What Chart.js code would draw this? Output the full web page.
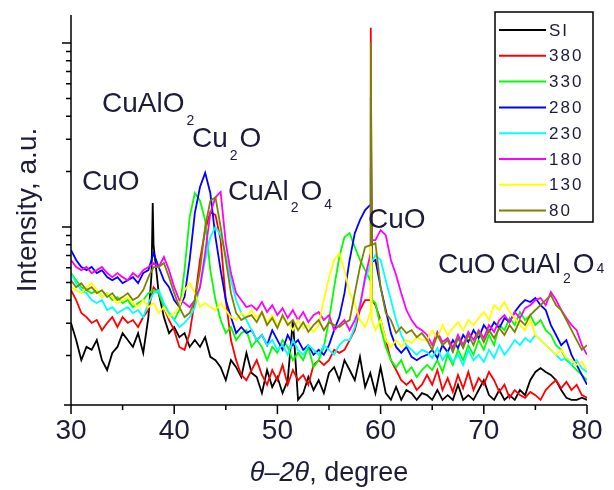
<!DOCTYPE html>
<html>
<head>
<meta charset="utf-8">
<script src="https://cdn.jsdelivr.net/npm/chart.js@4.4.0/dist/chart.umd.min.js"></script>
<style>
  html, body { margin: 0; padding: 0; background: #fff; }
  #wrap { width: 614px; height: 490px; position: relative; }
</style>
</head>
<body>
<div id="wrap"><canvas id="xrd"></canvas></div>
<script>
// 2theta sampling (degree)
const twoTheta = [
  30,30.5,31,31.5,32,32.5,33,33.5,34,34.5,
  35,35.5,36,36.5,37,37.5,38,38.5,39,39.5,
  40,40.5,41,41.5,42,42.5,43,43.5,44,44.5,
  45,45.5,46,46.5,47,47.5,48,48.5,49,49.5,
  50,50.5,51,51.5,52,52.5,53,53.5,54,54.5,
  55,55.5,56,56.5,57,57.5,58,58.5,59,59.5,
  60,60.5,61,61.5,62,62.5,63,63.5,64,64.5,
  65,65.5,66,66.5,67,67.5,68,68.5,69,69.5,
  70,70.5,71,71.5,72,72.5,73,73.5,74,74.5,
  75,75.5,76,76.5,77,77.5,78,78.5,79,79.5,
  80
];
// extra samples on the narrow peaks (CuO 38, substrate 59)
const peakTheta = [37.8, 37.92, 59.05, 59.15];

const seriesNames = ['SI', '380', '330', '280', '230', '180', '130', '80'];
const seriesColors = ['#000000', '#ff0000', '#00ff00', '#0000ff', '#00ffff', '#ff00ff', '#ffff00', '#808000'];

// intensity, a.u. (log axis)
const intSI = [
  3.01,2.43,1.89,2.23,2.15,2.43,1.89,1.67,2.07,2.23,
  2.65,2.43,2.23,2.65,2.07,3.24,7.98,4.37,3.24,2.65,
  2.86,2.52,2.65,2.23,2.43,2.23,2.52,1.97,1.89,1.73,
  1.47,1.89,1.73,1.53,2.07,1.61,1.53,1.25,1.67,1.35,
  1.53,1.25,1.47,3.12,1.15,1.25,1.53,1.30,1.47,1.25,
  1.61,1.73,1.47,1.89,1.67,1.47,1.97,1.35,1.61,1.25,
  1.73,1.25,1.15,1.35,1.15,1.30,1.25,1.15,1.25,1.22,
  1.15,1.30,1.15,1.22,1.15,1.39,1.15,1.22,1.15,1.30,
  1.47,1.22,1.15,1.30,1.15,1.22,1.15,1.30,1.22,1.47,
  1.63,1.71,1.63,1.57,1.47,1.30,1.18,1.15,1.15,1.18,
  1.15
];
const int380 = [
  4.54,4.01,3.41,3.24,3.01,3.12,2.75,3.01,3.24,2.86,
  3.24,3.01,3.12,2.86,3.24,3.54,4.71,4.37,3.67,3.12,
  2.75,2.23,2.15,2.65,4.01,6.62,9.61,12.05,11.6,8.49,
  4.01,2.43,1.89,1.57,1.47,1.67,1.89,1.57,1.39,1.67,
  1.47,1.78,1.39,1.67,1.47,1.57,1.39,1.78,1.89,1.78,
  1.89,2.15,2.07,2.15,2.43,2.75,3.54,4.01,4.01,3.76,
  3.12,2.43,1.89,1.67,1.47,1.39,1.47,1.30,1.39,1.57,
  1.39,1.67,1.30,1.51,1.27,1.57,1.33,1.63,1.30,1.51,
  1.39,1.63,1.47,1.27,1.39,1.18,1.30,1.22,1.18,1.27,
  1.22,1.15,1.30,1.39,1.47,1.33,1.44,1.30,1.39,1.22,
  1.18
];
const int330 = [
  5.62,5.14,4.71,4.54,4.37,4.54,4.16,4.37,4.01,4.16,
  3.86,4.01,3.67,3.86,4.01,4.37,4.54,4.37,3.67,3.41,
  3.12,3.54,5.83,11.33,15.3,13.9,10.9,5.83,4.01,3.12,
  2.65,2.86,2.43,2.65,2.75,2.23,2.43,2.23,1.89,2.23,
  2.07,2.43,2.23,1.89,2.07,1.89,2.23,1.73,1.89,2.23,
  3.12,4.71,6.87,8.82,9.26,7.78,6.62,5.83,5.14,3.86,
  2.86,2.23,1.89,1.73,1.89,1.61,1.73,1.53,1.67,1.78,
  1.67,1.89,1.63,2.02,1.78,2.15,1.89,2.28,2.02,2.43,
  2.15,2.59,2.28,2.93,2.75,3.20,2.93,3.45,3.12,3.32,
  2.93,3.12,2.75,2.59,2.28,2.15,1.89,1.78,1.67,1.57,
  1.47
];
const int280 = [
  7.49,6.62,6.06,5.83,6.06,5.62,5.83,5.34,5.14,5.34,
  4.95,5.14,5.34,4.95,5.62,5.83,7.21,6.06,5.14,4.71,
  4.01,3.67,4.16,6.62,11.9,16.5,19.7,15.3,8.82,5.83,
  4.01,3.24,2.65,2.86,2.65,2.75,2.43,2.59,2.28,2.75,
  2.43,2.15,2.59,2.28,2.43,2.15,2.28,2.02,2.15,2.02,
  2.28,2.75,3.24,4.37,6.62,9.26,10.9,12.35,13.2,6.62,
  4.71,3.54,2.65,2.23,2.07,2.23,1.97,1.89,1.97,2.02,
  2.15,1.94,2.28,2.09,2.43,2.20,2.59,2.37,2.75,2.49,
  2.93,2.69,3.04,2.82,3.20,3.04,3.45,3.76,4.01,3.91,
  4.11,3.76,3.54,2.93,2.59,2.28,2.43,2.02,1.78,1.57,
  1.39
];
const int230 = [
  5.62,4.95,4.54,4.37,4.01,3.86,4.01,3.54,3.67,3.41,
  3.54,3.67,3.41,3.54,3.24,3.86,4.37,4.54,3.86,3.41,
  3.12,2.86,3.01,3.24,3.67,4.71,6.62,8.82,10.0,9.03,
  7.05,5.14,4.01,3.41,3.12,2.75,2.43,2.59,2.28,2.43,
  2.15,2.28,2.02,2.43,2.15,2.02,2.28,2.15,2.02,2.28,
  2.15,2.02,2.28,2.43,2.43,2.86,3.86,5.14,6.21,7.05,
  6.62,5.14,4.01,3.12,2.59,2.28,2.15,2.02,2.15,2.09,
  1.94,2.20,1.89,2.09,1.85,2.02,1.78,2.15,1.89,2.02,
  1.85,2.15,1.94,2.28,2.02,2.20,2.43,2.28,2.49,2.37,
  2.59,2.43,2.28,2.15,2.02,1.89,1.94,1.78,1.89,1.71,
  1.63
];
const int180 = [
  6.62,6.06,5.83,6.06,5.62,5.83,6.06,5.62,5.34,5.62,
  5.34,5.14,5.62,5.34,5.83,6.06,6.37,6.06,6.87,5.83,
  4.71,4.01,3.86,3.67,4.01,4.71,7.21,11.9,14.5,15.5,
  8.17,5.62,4.37,4.01,3.67,3.76,3.54,3.91,3.45,3.76,
  3.32,3.62,3.20,3.54,3.12,3.45,3.04,3.32,3.45,3.12,
  3.32,2.75,2.93,3.12,2.75,3.12,3.67,5.34,7.05,8.49,
  9.61,9.03,6.62,5.48,4.37,3.54,3.12,2.86,2.75,2.59,
  2.28,2.69,2.37,2.49,2.20,2.59,2.28,2.69,2.43,2.75,
  2.49,2.93,2.69,3.12,3.32,3.04,3.45,3.20,3.62,3.76,
  4.01,4.11,3.76,4.43,4.01,3.54,3.20,2.93,2.75,2.28,
  2.02
];
const int130 = [
  4.71,4.54,4.37,4.71,4.95,4.54,4.16,4.37,4.16,3.86,
  4.01,4.16,3.86,3.67,4.01,3.67,3.86,3.41,3.67,3.24,
  3.41,3.67,4.54,4.95,4.37,3.67,3.86,3.67,3.54,3.86,
  3.54,3.24,3.12,3.41,3.24,3.54,3.20,3.45,3.04,3.32,
  2.93,3.20,3.04,2.75,3.12,2.82,2.93,2.69,2.93,4.01,
  5.34,6.62,7.21,5.83,4.37,3.86,3.12,2.86,3.41,2.75,
  3.12,2.43,2.23,2.43,2.23,2.43,2.34,2.52,2.43,2.43,
  2.75,2.49,2.93,2.59,2.82,3.04,2.75,3.12,2.93,3.20,
  3.45,3.12,3.76,3.54,3.91,3.45,3.20,2.93,2.75,3.12,
  2.59,2.43,2.28,2.15,2.02,2.15,1.94,1.89,1.78,1.85,
  1.67
];
const int80 = [
  5.14,4.71,4.95,4.54,4.71,4.37,4.54,4.16,4.37,4.01,
  4.16,4.37,4.01,4.16,4.54,5.34,6.06,6.06,6.37,5.34,
  4.37,3.67,3.24,3.41,4.01,5.83,10.0,13.9,14.5,10.0,
  6.62,4.37,3.41,3.12,3.24,3.32,3.04,3.45,2.93,3.20,
  2.82,3.32,2.93,3.12,2.75,3.04,2.69,2.93,3.12,2.75,
  3.04,2.93,2.86,3.01,3.12,4.37,6.06,7.78,7.98,8.17,
  4.71,3.41,3.12,2.65,2.86,2.65,2.75,2.52,2.65,2.43,
  2.15,2.59,2.28,2.43,2.09,2.49,2.20,2.59,2.28,2.69,
  2.37,2.75,2.49,2.82,2.59,2.93,2.69,3.12,2.93,3.32,
  3.54,3.76,4.01,4.26,3.76,3.54,3.12,2.75,2.43,2.15,
  2.28
];

// values at peakTheta (null = no extra sample)
const peakSI  = [5.48, 13.5, null, null];
const peak380 = [null, null, 121, 4.01];
const peak330 = [null, null, 20.4, 4.01];
const peak280 = [null, null, 50.9, 6.45];
const peak230 = [null, null, null, null];
const peak180 = [null, null, 21.7, 8.49];
const peak130 = [null, null, 13.9, 3.12];
const peak80  = [null, null, 101, 7.98];

const seriesValues = [intSI, int380, int330, int280, int230, int180, int130, int80];
const seriesPeaks = [peakSI, peak380, peak330, peak280, peak230, peak180, peak130, peak80];

// axis ticks
const xMajorTicks = [30, 40, 50, 60, 70, 80];
const xMinorTicks = [35, 45, 55, 65, 75];
const yMajorTicks = [10, 100];
const yMinorTicks = [2, 3, 4, 5, 6, 7, 8, 9, 20, 30, 40, 50, 60, 70, 80, 90];

// phase labels: anchor (2theta, intensity) of the first letter baseline
const phaseLabels = [
  { theta: 31.07, level: 15.9, parts: [['CuO', 0]] },
  { theta: 33.0, level: 42.2, parts: [['CuAlO', 0], ['2', 13]] },
  { theta: 41.72, level: 27.2, parts: [['Cu', 0], ['2', 13], ['O', 0]] },
  { theta: 45.21, level: 14.0, parts: [['CuAl', 0], ['2', 12], ['O', 0], ['4', 9]] },
  { theta: 58.78, level: 9.86, parts: [['CuO', 0]] },
  { theta: 65.56, level: 5.62, parts: [['CuO', 0]] },
  { theta: 71.6, level: 5.62, parts: [['CuAl', 0], ['2', 10], ['O', 0], ['4', 0]] }
];

const FONT = "'Liberation Sans', Arial, sans-serif";
const TEXT = '#1c1c3a';

function buildPoints(values, peaks) {
  const pts = twoTheta.map((t, i) => ({ x: t, y: values[i] }));
  peakTheta.forEach((t, i) => {
    if (peaks[i] != null) pts.push({ x: t, y: peaks[i] });
  });
  return pts.sort((a, b) => a.x - b.x);
}

const datasets = seriesNames.map((name, i) => ({
  label: name,
  data: buildPoints(seriesValues[i], seriesPeaks[i]),
  borderColor: seriesColors[i],
  borderWidth: 1.8,
  pointRadius: 0,
  tension: 0,
  order: seriesNames.length - i   // later series drawn on top
}));

const decorations = {
  id: 'decorations',
  afterDatasetsDraw(chart) {
    const { ctx, chartArea: a, scales: { x, y } } = chart;
    ctx.save();

    // axes and ticks
    ctx.strokeStyle = '#000';
    ctx.lineWidth = 1.5;
    ctx.beginPath();
    ctx.moveTo(a.left, a.top); ctx.lineTo(a.left, a.bottom);
    ctx.moveTo(a.left - 7, a.bottom); ctx.lineTo(a.right, a.bottom);
    xMajorTicks.forEach(v => { const p = x.getPixelForValue(v); ctx.moveTo(p, a.bottom); ctx.lineTo(p, a.bottom + 9); });
    xMinorTicks.forEach(v => { const p = x.getPixelForValue(v); ctx.moveTo(p, a.bottom); ctx.lineTo(p, a.bottom + 5); });
    yMajorTicks.forEach(v => { const p = y.getPixelForValue(v); ctx.moveTo(a.left, p); ctx.lineTo(a.left - 9, p); });
    yMinorTicks.forEach(v => { const p = y.getPixelForValue(v); ctx.moveTo(a.left, p); ctx.lineTo(a.left - 5, p); });
    ctx.stroke();

    // phase labels
    ctx.fillStyle = TEXT;
    ctx.textBaseline = 'alphabetic';
    ctx.textAlign = 'left';
    phaseLabels.forEach(lab => {
      let px = x.getPixelForValue(lab.theta);
      const py = y.getPixelForValue(lab.level);
      lab.parts.forEach(([txt, dy]) => {
        const sub = dy !== 0 || /^\d$/.test(txt);
        if (sub) {
          ctx.font = `14px ${FONT}`;
          px += 2;
          ctx.fillText(txt, px, py + dy);
          px += ctx.measureText(txt).width + 2;
        } else {
          ctx.font = `28px ${FONT}`;
          ctx.fillText(txt, px, py);
          px += ctx.measureText(txt).width;
        }
      });
    });

    // legend
    const lx = 495, ly = 12, lw = 98, lh = 210;
    ctx.fillStyle = '#fff';
    ctx.fillRect(lx, ly, lw, lh);
    ctx.strokeStyle = '#000';
    ctx.lineWidth = 1.5;
    ctx.strokeRect(lx, ly, lw, lh);
    ctx.font = `17px ${FONT}`;
    ctx.textBaseline = 'middle';
    if ('letterSpacing' in ctx) ctx.letterSpacing = '2px';
    chart.data.datasets.forEach((ds, i) => {
      const ry = ly + 18 + i * 25.8;
      ctx.strokeStyle = ds.borderColor;
      ctx.lineWidth = 2;
      ctx.beginPath(); ctx.moveTo(lx + 4, ry); ctx.lineTo(lx + 51, ry); ctx.stroke();
      ctx.fillStyle = TEXT;
      ctx.fillText(ds.label, lx + 54, ry + 1);
    });
    if ('letterSpacing' in ctx) ctx.letterSpacing = '0px';

    // axis titles
    ctx.fillStyle = TEXT;
    ctx.textBaseline = 'alphabetic';
    ctx.save();
    ctx.translate(36, (a.top + a.bottom) / 2);
    ctx.rotate(-Math.PI / 2);
    ctx.textAlign = 'center';
    ctx.font = `28px ${FONT}`;
    ctx.fillText('Intensity, a.u.', 0, 0);
    ctx.restore();

    const partA = 'θ–2θ', partB = ', degree';
    ctx.font = `italic 27px ${FONT}`;
    const wA = ctx.measureText(partA).width;
    ctx.font = `27px ${FONT}`;
    const wB = ctx.measureText(partB).width;
    const cx = (a.left + a.right) / 2;
    const tx = cx - (wA + wB) / 2;
    ctx.textAlign = 'left';
    ctx.font = `italic 27px ${FONT}`;
    ctx.fillText(partA, tx, 481);
    ctx.font = `27px ${FONT}`;
    ctx.fillText(partB, tx + wA, 481);

    ctx.restore();
  }
};

new Chart(document.getElementById('xrd'), {
  type: 'line',
  data: { datasets },
  plugins: [decorations],
  options: {
    responsive: true,
    maintainAspectRatio: false,
    animation: false,
    devicePixelRatio: 1,
    layout: { padding: { left: 0, right: 27, top: 15, bottom: 0 } },
    plugins: { legend: { display: false }, tooltip: { enabled: false } },
    scales: {
      x: {
        type: 'linear',
        min: 30, max: 80,
        grid: { display: false, drawTicks: false },
        border: { display: false },
        ticks: { stepSize: 10, padding: 9, maxRotation: 0, color: TEXT, font: { family: FONT, size: 28 } },
        afterFit: s => { s.height = 85; }
      },
      y: {
        type: 'logarithmic',
        min: 1.078, max: 142,
        grid: { display: false, drawTicks: false },
        border: { display: false },
        ticks: { display: false },
        afterFit: s => { s.width = 71; }
      }
    }
  }
});
</script>
</body>
</html>
